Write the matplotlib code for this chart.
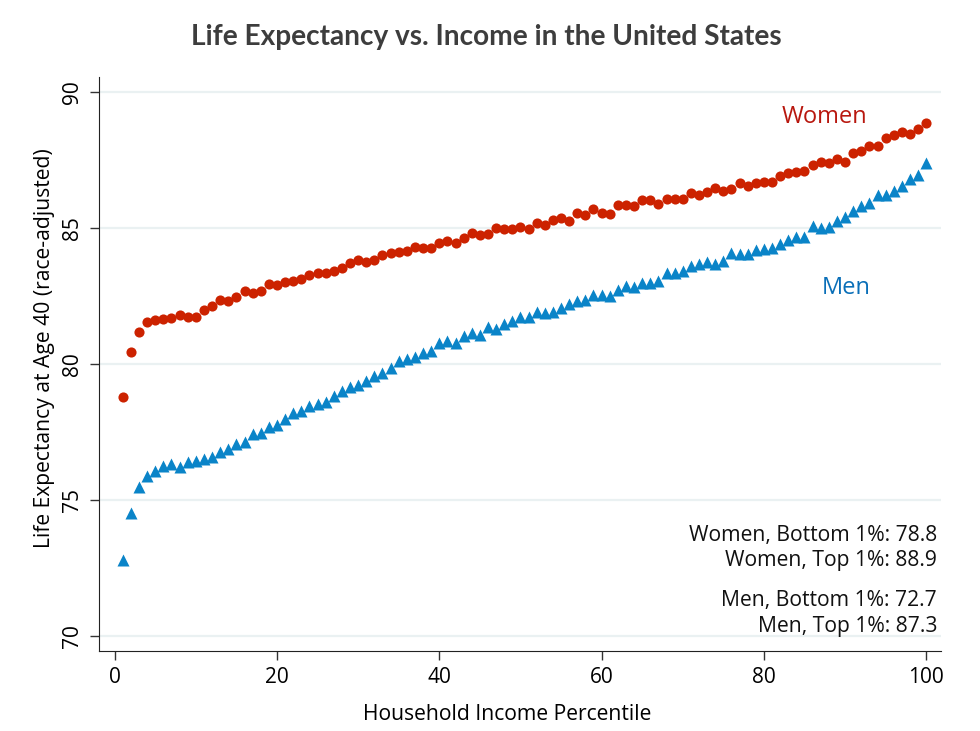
import matplotlib
matplotlib.use("Agg")
import matplotlib.pyplot as plt

percentile = list(range(1, 101))
women = [78.77, 80.45, 81.16, 81.53, 81.62, 81.67, 81.70, 81.80, 81.74, 81.74,
         82.00, 82.14, 82.35, 82.32, 82.48, 82.70, 82.62, 82.70, 82.94, 82.92,
         83.01, 83.05, 83.11, 83.26, 83.36, 83.36, 83.43, 83.53, 83.73, 83.81,
         83.76, 83.82, 84.00, 84.07, 84.12, 84.15, 84.29, 84.28, 84.25, 84.45,
         84.52, 84.46, 84.63, 84.80, 84.73, 84.77, 85.00, 84.98, 84.98, 85.02,
         84.96, 85.17, 85.10, 85.29, 85.37, 85.27, 85.54, 85.48, 85.69, 85.54,
         85.50, 85.83, 85.83, 85.81, 86.02, 86.03, 85.89, 86.05, 86.07, 86.08,
         86.27, 86.23, 86.32, 86.46, 86.37, 86.43, 86.64, 86.54, 86.64, 86.68,
         86.70, 86.92, 87.01, 87.05, 87.11, 87.32, 87.43, 87.38, 87.52, 87.43,
         87.77, 87.83, 88.01, 88.01, 88.30, 88.42, 88.54, 88.47, 88.63, 88.87]
men = [72.79, 74.53, 75.49, 75.88, 76.08, 76.25, 76.34, 76.23, 76.40, 76.43,
       76.50, 76.59, 76.78, 76.88, 77.05, 77.14, 77.41, 77.48, 77.67, 77.75,
       77.97, 78.19, 78.28, 78.46, 78.53, 78.62, 78.82, 79.02, 79.14, 79.23,
       79.38, 79.56, 79.66, 79.85, 80.11, 80.18, 80.27, 80.42, 80.49, 80.76,
       80.86, 80.78, 81.03, 81.13, 81.07, 81.35, 81.30, 81.47, 81.58, 81.73,
       81.72, 81.90, 81.86, 81.90, 82.06, 82.21, 82.32, 82.35, 82.55, 82.55,
       82.51, 82.72, 82.87, 82.84, 82.98, 82.98, 83.05, 83.36, 83.33, 83.41,
       83.60, 83.68, 83.76, 83.68, 83.80, 84.07, 84.04, 84.03, 84.19, 84.22,
       84.28, 84.41, 84.55, 84.68, 84.68, 85.09, 85.00, 85.05, 85.26, 85.42,
       85.64, 85.82, 85.91, 86.21, 86.21, 86.36, 86.54, 86.81, 86.95, 87.38]
summary_lines = [["Women, Bottom 1%: 78.8", "Women, Top 1%: 88.9"],
                 ["Men, Bottom 1%: 72.7", "Men, Top 1%: 87.3"]]
x_ticks = [0, 20, 40, 60, 80, 100]
y_ticks = [70, 75, 80, 85, 90]

red = "#cc2200"
blue = "#0a84c8"

plt.rcParams["font.family"] = ["Open Sans", "DejaVu Sans"]

fig = plt.figure(figsize=(9.8, 7.31), dpi=100)
ax = fig.add_axes([0.1013, 0.1098, 0.8587, 0.7849])

for yv in y_ticks:
    ax.axhline(yv, color="#eaf1f2", lw=1.6, zorder=0)

ax.plot(percentile, women, "o", color=red, ms=7.3, mec="none")
ax.plot(percentile, men, "^", color=blue, ms=8.0, mec="none")

ax.text(87.5, 89.08, "Women", color="#b8170e", fontsize=17, ha="center", va="center")
ax.text(90.2, 82.80, "Men", color="#0a6fb8", fontsize=17, ha="center", va="center")

ys = [[0.200, 0.157], [0.087, 0.043]]
for grp, yy in zip(summary_lines, ys):
    for txt, y in zip(grp, yy):
        ax.text(0.9956, y, txt, transform=ax.transAxes, ha="right", va="center",
                fontsize=15.2, color="#111111")

ax.set_xlim(-1.9, 101.8)
ax.set_ylim(69.46, 90.55)
ax.set_xticks(x_ticks)
ax.set_yticks(y_ticks)
ax.tick_params(labelsize=15, length=6.5, width=1, color="#333333", pad=5)
for lab in ax.get_yticklabels():
    lab.set_rotation(90)
    lab.set_va("center")
ax.spines["top"].set_visible(False)
ax.spines["right"].set_visible(False)
ax.spines["left"].set_color("#222222")
ax.spines["bottom"].set_color("#222222")

ax.set_xlabel("Household Income Percentile", fontsize=15.2, labelpad=12)
ax.xaxis.label.set_x(0.485)
ax.set_ylabel("Life Expectancy at Age 40 (race-adjusted)", fontsize=15.2, labelpad=5)
ax.yaxis.label.set_y(0.528)

fig.text(0.496, 0.950, "Life Expectancy vs. Income in the United States",
         ha="center", va="center", fontsize=20.2, fontweight="bold",
         family=["Lato", "DejaVu Sans"], color="#3d3d3d")

fig.savefig("out.png", dpi=100)
